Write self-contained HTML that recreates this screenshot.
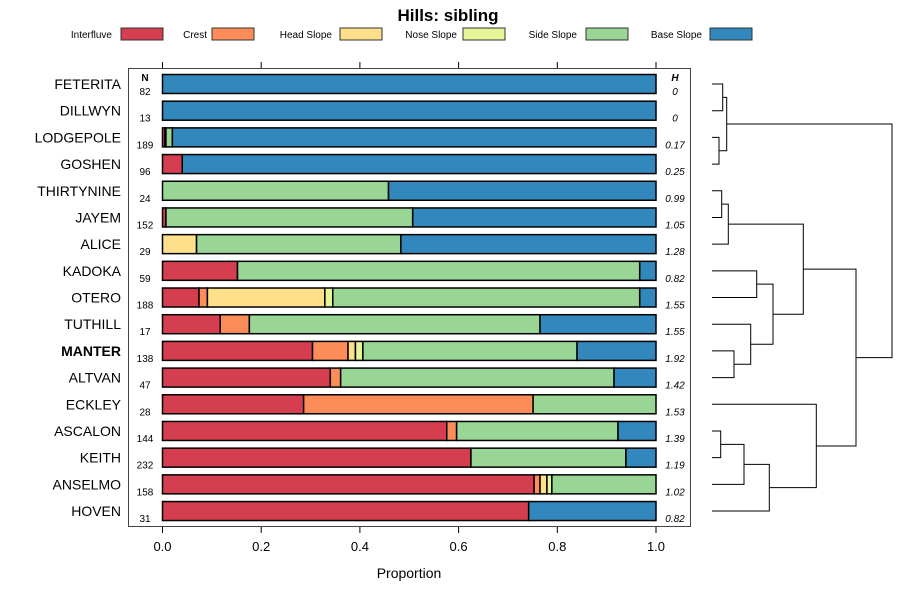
<!DOCTYPE html>
<html><head><meta charset="utf-8"><style>
body{margin:0;background:#fff;}
svg{display:block;font-family:"Liberation Sans",sans-serif;}
</style></head><body>
<svg id="chart" width="900" height="600" viewBox="0 0 900 600">
<text x="448" y="21" text-anchor="middle" font-size="17" font-weight="bold">Hills: sibling</text>
<g id="legend"></g>
<rect x="128.5" y="68.5" width="562" height="458" fill="none" stroke="#444" stroke-width="1"/>
<g id="bars"></g>
<g id="axis"></g>
<g id="dendro" stroke="#000" stroke-width="1" fill="none"></g>
<text x="145" y="81" text-anchor="middle" font-size="10" font-weight="bold">N</text>
<text x="675" y="81" text-anchor="middle" font-size="10" font-weight="bold" font-style="italic">H</text>
<text x="409" y="578" text-anchor="middle" font-size="14">Proportion</text>
</svg>
<script>
const classes = ["Interfluve","Crest","Head Slope","Nose Slope","Side Slope","Base Slope"];
const colors = ["#d53e4f","#fc8d59","#fee08b","#e6f598","#99d594","#3288bd"];
const soils = ["FETERITA","DILLWYN","LODGEPOLE","GOSHEN","THIRTYNINE","JAYEM","ALICE","KADOKA","OTERO","TUTHILL","MANTER","ALTVAN","ECKLEY","ASCALON","KEITH","ANSELMO","HOVEN"];
const nValues = [82,13,189,96,24,152,29,59,188,17,138,47,28,144,232,158,31];
const hValues = ["0","0","0.17","0.25","0.99","1.05","1.28","0.82","1.55","1.55","1.92","1.42","1.53","1.39","1.19","1.02","0.82"];
const interfluve = [0,0,0.005,0.04,0,0.007,0,0.152,0.074,0.117,0.304,0.34,0.286,0.576,0.625,0.753,0.742];
const crest = [0,0,0,0,0,0,0,0,0.017,0.059,0.072,0.021,0.465,0.02,0,0.012,0];
const headSlope = [0,0,0.002,0,0,0,0.069,0,0.238,0,0.015,0,0,0,0,0.014,0];
const noseSlope = [0,0,0,0,0,0,0,0,0.016,0,0.015,0,0,0,0,0.01,0];
const sideSlope = [0,0,0.013,0,0.458,0.5,0.414,0.815,0.622,0.589,0.434,0.554,0.249,0.327,0.314,0.211,0];
const baseSlope = [1,1,0.98,0.96,0.542,0.493,0.517,0.033,0.033,0.235,0.16,0.085,0,0.077,0.061,0,0.258];
const ticks = [0,0.2,0.4,0.6,0.8,1.0];
const tickLabels = ["0.0","0.2","0.4","0.6","0.8","1.0"];
const NS="http://www.w3.org/2000/svg";
const x = v => 162.5 + v*493.5;
const y = i => 84 + i*26.69;
function mk(tag, attrs, parent){const e=document.createElementNS(NS,tag);for(const k in attrs)e.setAttribute(k,attrs[k]);parent.appendChild(e);return e;}
const series=[interfluve,crest,headSlope,noseSlope,sideSlope,baseSlope];
const bars=document.getElementById('bars');
soils.forEach((s,i)=>{
  const lab=mk('text',{x:121,y:y(i)+5,'text-anchor':'end','font-size':14,'font-weight':s==="MANTER"?'bold':'normal'},bars);
  lab.textContent=s;
  
  
  const nt=mk('text',{x:145,y:y(i)+11,'text-anchor':'middle','font-size':10},bars);
  nt.textContent=nValues[i];
  
  
  const ht=mk('text',{x:675,y:y(i)+11,'text-anchor':'middle','font-size':10,'font-style':'italic'},bars);
  ht.textContent=hValues[i];
  
  
  let c=0;
  series.forEach((ser,k)=>{
    const v=ser[i]; if(v<=0)return;
    const r=mk('rect',{x:x(c),y:y(i)-9.5,width:x(c+v)-x(c),height:19,fill:colors[k],stroke:'#000','stroke-width':1.5},bars);
    
    
    c+=v;
  });
});
const ax=document.getElementById('axis');
ticks.forEach((t,i)=>{
  mk('line',{x1:x(t),x2:x(t),y1:527,y2:533,stroke:'#000'},ax);
  mk('line',{x1:x(t),x2:x(t),y1:62,y2:68,stroke:'#000'},ax);
  const tl=mk('text',{x:x(t),y:551,'text-anchor':'middle','font-size':13},ax);
  tl.textContent=tickLabels[i];
  
  
});
const lg=document.getElementById('legend');
const legX=[[112,121],[207,212],[332,340],[457,463],[577,586],[702,710]];
classes.forEach((c,i)=>{
  const t=mk('text',{x:legX[i][0],y:38,'text-anchor':'end','font-size':10},lg);
  t.textContent=c;
  
  
  const r=mk('rect',{x:legX[i][1],y:28,width:42,height:12,fill:colors[i],stroke:'#333','stroke-width':1},lg);
  
  
});
// dendrogram merges: [yA, yB, height-x] using leaf indices or mid
const dg=document.getElementById('dendro');
function link(ya,xa,yb,xb,h){mk('path',{d:`M${xa},${ya}H${h}V${yb}H${xb}`},dg);return (ya+yb)/2;}
const L=712;
const a=link(y(0),L,y(1),L,722.7);
const b=link(y(2),L,y(3),L,719);
const ab=link(a,722.7,b,719,726.7);
const c1=link(y(4),L,y(5),L,721.7);
const c2=link(c1,721.7,y(6),L,728.3);
const d1=link(y(7),L,y(8),L,756.7);
const e1=link(y(10),L,y(11),L,734);
const e2=link(y(9),L,e1,734,750.7);
const de=link(d1,756.7,e2,750.7,773);
const cde=link(c2,728.3,de,773,803.3);
const f1=link(y(13),L,y(14),L,720.7);
const f2=link(f1,720.7,y(15),L,744);
const f3=link(f2,744,y(16),L,769.3);
const f4=link(y(12),L,f3,769.3,816.3);
const g=link(cde,803.3,f4,816.3,856);
link(ab,726.7,g,856,892);
</script>
</body></html>
